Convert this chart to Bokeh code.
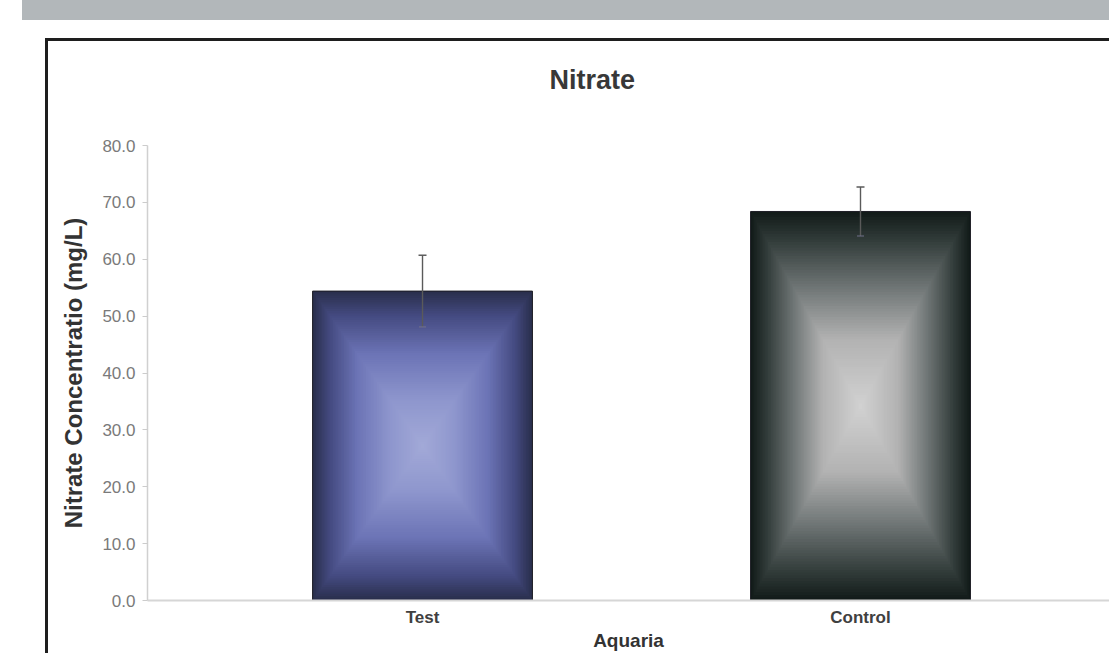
from bokeh.plotting import figure
from bokeh.models import (Range1d, FixedTicker, NumeralTickFormatter, ColumnDataSource,
                          Whisker, TeeHead, Div, Title)
from bokeh.layouts import column, row
from bokeh.embed import file_html
from bokeh.resources import INLINE

# ---------------- data ----------------
categories = ["Test", "Control"]
nitrate_mean = [54.4, 68.4]
nitrate_err = [6.3, 4.3]
y_ticks = [0, 10, 20, 30, 40, 50, 60, 70, 80]
chart_title = "Nitrate"

# ---------------- styles ----------------
positions = [i + 1 for i in range(len(categories))]
BAR_W = 0.502
N_STEPS = 70
grad_stops = {
    "Test": [(0.0, "#a3aad8"), (0.3, "#8e96cd"), (0.6, "#6c74b6"), (0.85, "#444a80"), (1.0, "#2a2f4d")],
    "Control": [(0.0, "#d2d2d2"), (0.35, "#b2b2b2"), (0.6, "#737979"), (0.85, "#343e3c"), (1.0, "#121b19")],
}


def hex2rgb(h):
    h = h.lstrip("#")
    return tuple(int(h[i:i + 2], 16) for i in (0, 2, 4))


def interp(stops, t):
    for (t0, c0), (t1, c1) in zip(stops[:-1], stops[1:]):
        if t0 <= t <= t1:
            f = (t - t0) / (t1 - t0) if t1 > t0 else 0
            a, b = hex2rgb(c0), hex2rgb(c1)
            return "#%02x%02x%02x" % tuple(int(round(a[i] + (b[i] - a[i]) * f)) for i in range(3))
    return stops[-1][1]


# nested rectangles -> rectangular "from centre" gradient, computed from the data values
L, R, T, B, C = [], [], [], [], []
for cat, xc, m in zip(categories, positions, nitrate_mean):
    for k in range(N_STEPS):
        t = 1 - k / N_STEPS
        hw = BAR_W / 2 * t
        hh = m / 2 * t
        L.append(xc - hw); R.append(xc + hw)
        B.append(m / 2 - hh); T.append(m / 2 + hh)
        C.append(interp(grad_stops[cat], t))
grad_src = ColumnDataSource(dict(left=L, right=R, top=T, bottom=B, color=C))

bar_src = ColumnDataSource(dict(
    x=positions, top=nitrate_mean,
    left=[p - BAR_W / 2 for p in positions], right=[p + BAR_W / 2 for p in positions],
    upper=[m + e for m, e in zip(nitrate_mean, nitrate_err)],
    lower=[m - e for m, e in zip(nitrate_mean, nitrate_err)],
))

p = figure(width=1061, height=612, output_backend="svg", toolbar_location=None,
           x_range=Range1d(0.3721, 2.5685), y_range=Range1d(0, 80),
           min_border_left=99, min_border_right=0, min_border_top=104, min_border_bottom=51,
           outline_line_color=None, background_fill_color="white", border_fill_color="white")

p.quad(left="left", right="right", top="top", bottom="bottom", source=grad_src,
       fill_color="color", line_color=None)
p.quad(left="left", right="right", top="top", bottom=0, source=bar_src,
       fill_color=None, line_color="#1c1c24", line_width=1)

whisk = Whisker(base="x", upper="upper", lower="lower", source=bar_src, dimension="height",
                line_color="#5a5a5a", line_width=1.4, level="overlay",
                upper_head=TeeHead(size=8, line_color="#5a5a5a", line_width=1.4),
                lower_head=TeeHead(size=7, line_color="#70708a", line_width=1.1))
p.add_layout(whisk)

# title, with an empty spacer title between it and the frame
p.title.text = chart_title
p.title.text_font = "Liberation Sans"
p.title.text_font_size = "27px"
p.title.text_font_style = "bold"
p.title.text_color = "#383838"
p.title.align = "left"
p.title.offset = 402
p.title.standoff = 0
spacer = Title(text=" ", text_font_size="10px", standoff=38)
p.above = [spacer] + list(p.above)

# axes
p.grid.visible = False
xa = p.xaxis[0]
xa.ticker = FixedTicker(ticks=positions)
xa.major_label_overrides = {pos: cat for pos, cat in zip(positions, categories)}
xa.major_tick_out = 0
xa.major_tick_in = 0
xa.minor_tick_out = 0
xa.minor_tick_in = 0
xa.axis_line_color = "#d6d6d6"
xa.axis_line_width = 2
xa.major_label_text_font = "Liberation Sans"
xa.major_label_text_font_size = "17px"
xa.major_label_text_font_style = "bold"
xa.major_label_text_color = "#404040"
xa.major_label_standoff = 7
xa.axis_label = "Aquaria"
xa.axis_label_text_font = "Liberation Sans"
xa.axis_label_text_font_size = "19px"
xa.axis_label_text_font_style = "bold"
xa.axis_label_text_color = "#333333"
xa.axis_label_standoff = 0

ya = p.yaxis[0]
ya.ticker = FixedTicker(ticks=y_ticks)
ya.formatter = NumeralTickFormatter(format="0.0")
ya.major_tick_out = 5
ya.major_tick_in = 0
ya.minor_tick_out = 0
ya.minor_tick_in = 0
ya.major_tick_line_color = "#cccccc"
ya.axis_line_color = "#d0d0d0"
ya.axis_line_width = 1.5
ya.major_label_text_font = "Liberation Sans"
ya.major_label_text_font_size = "17px"
ya.major_label_text_color = "#7a7a7a"
ya.major_label_standoff = 7
ya.axis_label = "Nitrate Concentratio (mg/L)"
ya.axis_label_text_font = "Liberation Sans"
ya.axis_label_text_font_size = "24px"
ya.axis_label_text_font_style = "bold"
ya.axis_label_text_color = "#333333"
ya.axis_label_standoff = 12

# page frame: grey header band and black box border
band = Div(text="", width=1087, height=20, margin=(0, 0, 0, 22),
           styles={"background-color": "#b2b7ba"})
gap = Div(text="", width=10, height=18, margin=0)
topline = Div(text="", width=1064, height=3, margin=(0, 0, 0, 45),
              styles={"background-color": "#1e1e1e"})
leftline = Div(text="", width=3, height=612, margin=(0, 0, 0, 45),
               styles={"background-color": "#1e1e1e"})

layout = column(band, gap, topline, row(leftline, p, spacing=0), spacing=0)

open("out.html", "w").write(file_html(layout, INLINE))
